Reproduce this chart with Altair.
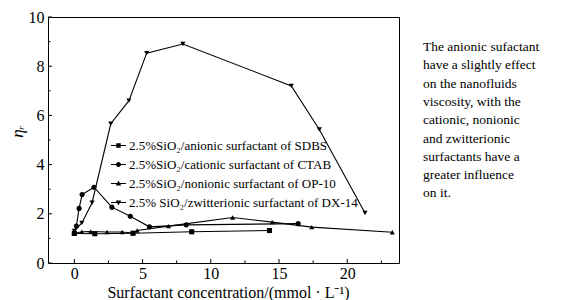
import altair as alt
import pandas as pd

# ---------------- data ----------------
series_names = [
    "2.5%SiO₂/anionic surfactant of SDBS",
    "2.5%SiO₂/cationic surfactant of CTAB",
    "2.5%SiO₂/nonionic surfactant of OP-10",
    "2.5% SiO₂/zwitterionic surfactant of DX-14",
]

anionic_x = [0, 1.5, 4.3, 8.6, 14.3]
anionic_y = [1.2, 1.19, 1.21, 1.27, 1.32]

cationic_x = [0, 0.15, 0.35, 0.57, 1.44, 2.75, 4.1, 5.5, 8.2, 16.4]
cationic_y = [1.2, 1.5, 2.22, 2.78, 3.08, 2.27, 1.9, 1.47, 1.55, 1.6]

nonionic_x = [0, 0.55, 1.2, 2.4, 3.5, 4.3, 4.6, 6.9, 11.6, 14.5, 17.4, 23.3]
nonionic_y = [1.2, 1.27, 1.28, 1.26, 1.26, 1.22, 1.32, 1.5, 1.85, 1.66, 1.46, 1.25]

zwit_x = [0, 0.55, 1.3, 2.67, 4.0, 5.3, 7.95, 15.9, 17.95, 21.3]
zwit_y = [1.3, 1.63, 2.45, 5.66, 6.6, 8.53, 8.9, 7.2, 5.43, 2.03]

x_major = [0, 5, 10, 15, 20]
x_minor = [2.5, 7.5, 12.5, 17.5, 22.5]
y_major = [0, 2, 4, 6, 8, 10]
y_minor = [1, 3, 5, 7, 9]

note_lines = [
    "The anionic sufactant",
    "have a slightly effect",
    "on the nanofluids",
    "viscosity, with the",
    "cationic, nonionic",
    "and zwitterionic",
    "surfactants have a",
    "greater influence",
    "on it.",
]

x_title = "Surfactant concentration/(mmol · L⁻¹)"
y_title = "ηᵣ"

# ---------------- build table ----------------
rows = []
for name, xs, ys in zip(series_names,
                        [anionic_x, cationic_x, nonionic_x, zwit_x],
                        [anionic_y, cationic_y, nonionic_y, zwit_y]):
    for i, (xv, yv) in enumerate(zip(xs, ys)):
        rows.append({"series": name, "x": xv, "y": yv, "idx": i})
df = pd.DataFrame(rows)

FONT = "Liberation Serif, Times New Roman, serif"
W, H = 351, 246
XD = [-1.93, 23.79]
YD = [0, 10]

xscale = alt.Scale(domain=XD, nice=False, zero=False)
yscale = alt.Scale(domain=YD, nice=False, zero=False)

x_axis = alt.Axis(values=x_major, ticks=False, domain=False, grid=False,
                  labelFont=FONT, labelFontSize=16, labelColor="black",
                  labelPadding=2, title=x_title, titleFont=FONT,
                  titleFontSize=16, titleFontWeight="normal",
                  titleColor="black", titleX=180, titleY=29,
                  titleBaseline="middle", titleAlign="center")
y_axis = alt.Axis(values=y_major, ticks=False, domain=False, grid=False,
                  labelFont=FONT, labelFontSize=16, labelColor="black",
                  labelPadding=4, title=y_title, titleFont=FONT,
                  titleFontSize=17, titleFontStyle="italic",
                  titleFontWeight="normal", titleColor="black",
                  titleX=-31, titleY=114, titleAngle=270,
                  titleBaseline="middle", titleAlign="center")

X = alt.X("x:Q", scale=xscale, axis=x_axis, title=x_title)
Y = alt.Y("y:Q", scale=yscale, axis=y_axis, title=y_title)

plain_shapes = ["square", "circle", "triangle-up", "triangle-down"]
# legend glyphs: thin bar (the line) plus the marker, all filled, same winding
BAR = "M-1,-0.065H1V0.065H-1Z"
legend_shapes = [
    BAR + "M-0.3,-0.3H0.3V0.3H-0.3Z",
    BAR + "M-0.33,0A0.33,0.33 0 1,1 0.33,0A0.33,0.33 0 1,1 -0.33,0Z",
    BAR + "M0,-0.38L0.37,0.28H-0.37Z",
    BAR + "M0,0.38L-0.37,-0.28H0.37Z",
]

base = alt.Chart(df)

lines = base.mark_line(color="black", strokeWidth=1.1).encode(
    x=X, y=Y, detail="series:N", order="idx:Q",
)

points = base.mark_point(filled=True, color="black", size=26, opacity=1).encode(
    x=X, y=Y,
    shape=alt.Shape("series:N", scale=alt.Scale(domain=series_names, range=plain_shapes),
                    legend=None),
)

legend_layer = base.mark_point(filled=True, color="black", opacity=0).encode(
    x=X, y=Y,
    shape=alt.Shape("series:N", scale=alt.Scale(domain=series_names, range=legend_shapes),
                    legend=alt.Legend(orient="none", legendX=62, legendY=120,
                                      title=None, padding=0,
                                      symbolSize=225,
                                      symbolFillColor="black",
                                      symbolOpacity=1,
                                      labelFont=FONT, labelFontSize=13,
                                      labelColor="black", labelOffset=2,
                                      labelLimit=400, rowPadding=3)),
)

xv = alt.X("v:Q", scale=xscale, axis=x_axis, title=x_title)
yv = alt.Y("v:Q", scale=yscale, axis=y_axis, title=y_title)

xt_major = alt.Chart(pd.DataFrame({"v": x_major})).mark_rule(color="black", strokeWidth=1).encode(
    x=xv, y=alt.value(H), y2=alt.value(H - 4))
xt_minor = alt.Chart(pd.DataFrame({"v": x_minor})).mark_rule(color="black", strokeWidth=1).encode(
    x=xv, y=alt.value(H), y2=alt.value(H - 2.5))
yt_major = alt.Chart(pd.DataFrame({"v": y_major})).mark_rule(color="black", strokeWidth=1).encode(
    y=yv, x=alt.value(0), x2=alt.value(4))
yt_minor = alt.Chart(pd.DataFrame({"v": y_minor})).mark_rule(color="black", strokeWidth=1).encode(
    y=yv, x=alt.value(0), x2=alt.value(2.5))

note = alt.Chart(pd.DataFrame({"t": [0]})).mark_text(
    align="left", baseline="middle", font=FONT, fontSize=13.5, color="black",
    lineHeight=18.3,
).encode(x=alt.value(375), y=alt.value(30), text=alt.value(note_lines))

chart = alt.layer(lines, points, legend_layer, xt_major, xt_minor, yt_major, yt_minor, note).resolve_scale(
    shape="independent"
).properties(
    width=W, height=H,
    autosize=alt.AutoSizeParams(type="none"),
    padding={"left": 40, "top": 9, "right": 155, "bottom": 37},
    background="white",
).configure_view(stroke="black", strokeWidth=1)

chart.save("out.html", embed_options={"renderer": "svg", "actions": False})
